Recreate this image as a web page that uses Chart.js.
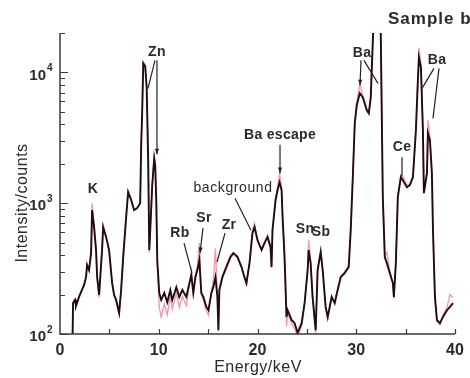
<!DOCTYPE html>
<html>
<head>
<meta charset="utf-8">
<script src="https://cdn.jsdelivr.net/npm/chart.js@4.4.0/dist/chart.umd.min.js"></script>
<style>
html, body { margin: 0; padding: 0; background: #fff; }
canvas { display: block; }
</style>
</head>
<body>
<canvas id="myChart" width="470" height="378"></canvas>
<script>
// energy axis (keV)
var energy = [
  1.27, 1.32, 1.52, 1.62, 1.93, 2.23, 2.44, 2.64, 2.74, 2.94,
  3.15, 3.25, 3.45, 3.65, 3.76, 3.96, 4.26, 4.37, 4.67, 4.97,
  5.28, 5.48, 5.69, 5.99, 6.19, 6.40, 6.70, 6.90, 7.21, 7.51,
  7.82, 8.12, 8.22, 8.32, 8.43, 8.63, 8.78, 8.93, 9.04, 9.14,
  9.34, 9.54, 9.64, 9.75, 9.85, 10.05, 10.25, 10.56, 10.86, 11.17,
  11.37, 11.78, 12.08, 12.39, 12.79, 13.10, 13.30, 13.50, 13.71, 13.91,
  14.11, 14.31, 14.52, 14.82, 15.03, 15.33, 15.53, 15.74, 15.94, 16.04,
  16.14, 16.45, 16.85, 17.26, 17.56, 17.97, 18.38, 18.68, 18.88, 19.19,
  19.49, 19.70, 20.00, 20.41, 20.71, 21.02, 21.32, 21.42, 21.52, 21.83,
  22.03, 22.23, 22.44, 22.54, 22.74, 22.94, 23.05, 23.45, 23.76, 24.06,
  24.47, 24.77, 25.08, 25.18, 25.38, 25.58, 25.89, 26.09, 26.40, 26.60,
  26.90, 27.11, 27.51, 27.82, 28.12, 28.43, 28.83, 29.24, 29.44, 29.64,
  29.85, 30.05, 30.36, 30.66, 31.07, 31.27, 31.47, 31.68, 31.98, 32.39,
  32.49, 32.69, 32.89, 33.10, 33.40, 33.71, 33.81, 34.01, 34.21, 34.52,
  34.72, 35.13, 35.43, 35.74, 36.04, 36.24, 36.35, 36.55, 36.75, 36.85,
  37.16, 37.26, 37.46, 37.66, 37.77, 37.97, 38.17, 38.48, 38.78, 39.19,
  39.49, 39.80
];

// black spectrum (counts)
var countsBlack = [
  90, 172, 182, 164, 192, 217, 237, 272, 336, 308,
  415, 885, 656, 438, 272, 199, 438, 656, 550, 438,
  245, 199, 182, 145, 217, 387, 782, 1213, 1054, 885,
  916, 1000, 2772, 4866, 11720, 11120, 7550, 2130, 438, 622,
  1372, 2206, 1950, 1054, 367, 206, 182, 206, 175, 217,
  182, 228, 192, 217, 192, 245, 282, 206, 272, 308,
  367, 206, 192, 161, 152, 206, 228, 272, 192, 107,
  217, 272, 325, 387, 415, 387, 325, 272, 245, 348,
  590, 656, 522, 438, 495, 550, 461, 325, 622, 1054,
  1257, 1446, 1257, 782, 387, 135, 152, 128, 121, 102,
  121, 172, 308, 438, 348, 192, 107, 308, 423, 308,
  161, 135, 192, 172, 217, 272, 292, 325, 622, 1498,
  4080, 5600, 6920, 6445, 5130, 4866, 6445, 17500, 60000, 60000,
  17500, 1112, 387, 348, 292, 245, 192, 348, 1112, 1580,
  1498, 1325, 1372, 1580, 3610, 8690, 13000, 10920, 3610, 1192,
  1694, 3423, 3027, 1694, 622, 192, 128, 121, 135, 152,
  161, 172
];

// pink spectrum (counts), mostly under the black one
var countsPink = [
  90, 175, 185, 160, 195, 220, 240, 280, 345, 310,
  430, 1000, 680, 450, 280, 190, 450, 680, 560, 440,
  250, 195, 175, 140, 220, 400, 800, 1250, 1080, 880,
  930, 1010, 2800, 4900, 12000, 11300, 7600, 2150, 420, 630,
  1390, 2250, 1980, 1060, 340, 160, 135, 170, 140, 195,
  155, 205, 160, 195, 165, 235, 300, 200, 280, 330,
  495, 200, 180, 150, 140, 210, 260, 450, 190, 105,
  220, 280, 335, 400, 420, 395, 330, 270, 240, 360,
  610, 700, 530, 440, 510, 570, 470, 320, 640, 1090,
  1300, 1700, 1290, 790, 370, 115, 145, 120, 110, 95,
  115, 175, 320, 520, 360, 185, 100, 320, 440, 315,
  160, 130, 195, 175, 225, 280, 300, 340, 640, 1540,
  4200, 5900, 8240, 6700, 5250, 4900, 6600, 18000, 60000, 60000,
  18000, 1150, 400, 420, 300, 240, 185, 355, 1150, 1650,
  1600, 1380, 1400, 1620, 3700, 9000, 15500, 11300, 3700, 1200,
  1750, 4300, 3150, 1750, 640, 185, 125, 118, 140, 160,
  200, 190
];

var xTicks = [0, 10, 20, 30, 40];
var yTicks = [100, 1000, 10000];
var yTickExp = ['2', '3', '4'];

// peak labels [text, keV, counts]
var peakLabels = [
  ['K', 3.34, 1280],
  ['Zn', 9.82, 14220],
  ['Rb', 12.15, 590],
  ['Sr', 14.58, 768],
  ['Zr', 17.11, 679],
  ['Ba escape', 22.28, 3300],
  ['Sn', 24.81, 634],
  ['Sb', 26.43, 601],
  ['Ba', 30.58, 13960],
  ['Ce', 34.63, 2675],
  ['Ba', 38.18, 12350]
];

// pointer lines [keV1, counts1, keV2, counts2, arrowhead]
var pointers = [
  [9.62, 12360, 8.91, 7550, 0],
  [9.82, 12360, 9.82, 2366, 1],
  [12.56, 495, 13.37, 292, 0],
  [14.48, 644, 14.18, 415, 1],
  [16.71, 590, 15.90, 355, 0],
  [17.72, 1091, 19.34, 622, 0],
  [22.28, 2800, 22.28, 1694, 1],
  [30.48, 12360, 30.38, 7960, 1],
  [30.78, 12360, 32.20, 8240, 0],
  [37.87, 10740, 36.66, 7550, 0],
  [38.38, 10740, 37.77, 4450, 0],
  [34.63, 2244, 34.63, 1607, 0]
];

function toPoints(ys) {
  var out = [];
  for (var i = 0; i < energy.length; i++) {
    out.push({x: energy[i], y: ys[i]});
  }
  return out;
}

var decor = {
  id: 'decor',
  afterDraw: function(chart) {
    var ctx = chart.ctx;
    var a = chart.chartArea;
    var xs = chart.scales.x;
    var ys = chart.scales.y;
    ctx.save();

    // axes
    ctx.strokeStyle = '#3a3a3a';
    ctx.lineWidth = 1.5;
    ctx.beginPath();
    ctx.moveTo(a.left, a.top);
    ctx.lineTo(a.left, a.bottom);
    ctx.lineTo(a.right, a.bottom);
    ctx.stroke();

    // inward ticks
    ctx.lineWidth = 1.2;
    ctx.beginPath();
    for (var v = 5; v <= 40; v += 5) {
      var px = Math.round(xs.getPixelForValue(v)) + 0.5;
      ctx.moveTo(px, a.bottom);
      ctx.lineTo(px, a.bottom - 5);
    }
    for (var d = 0; d < yTicks.length; d++) {
      for (var m = 1; m <= 9; m++) {
        var val = m * yTicks[d];
        if (val > 20000) break;
        var py = Math.round(ys.getPixelForValue(val)) + 0.5;
        ctx.moveTo(a.left, py);
        ctx.lineTo(a.left + (m == 1 ? 8 : 5), py);
      }
    }
    ctx.moveTo(a.left, a.top + 0.5);
    ctx.lineTo(a.left + 5, a.top + 0.5);
    ctx.stroke();

    ctx.fillStyle = '#2a2a2a';

    // x tick labels
    ctx.font = 'bold 16px "Liberation Sans", Arial, sans-serif';
    ctx.textAlign = 'center';
    ctx.textBaseline = 'middle';
    xTicks.forEach(function(t) {
      ctx.fillText(String(t), xs.getPixelForValue(t), a.bottom + 17);
    });

    // y tick labels 10^n
    yTicks.forEach(function(t, i) {
      var py = ys.getPixelForValue(t);
      ctx.font = 'bold 15px "Liberation Sans", Arial, sans-serif';
      ctx.textAlign = 'right';
      ctx.textBaseline = 'middle';
      ctx.fillText('10', a.left - 14, py + 3);
      ctx.font = 'bold 10px "Liberation Sans", Arial, sans-serif';
      ctx.textAlign = 'left';
      ctx.fillText(yTickExp[i], a.left - 13, py - 4);
    });

    // axis titles
    ctx.font = '16px "Liberation Sans", Arial, sans-serif';
    ctx.letterSpacing = '0.5px';
    ctx.textAlign = 'center';
    ctx.textBaseline = 'middle';
    ctx.fillText('Energy/keV', 258, 368);
    ctx.save();
    ctx.translate(23, 203);
    ctx.rotate(-Math.PI / 2);
    ctx.fillText('Intensity/counts', 0, 0);
    ctx.restore();

    // sample title
    ctx.font = 'bold 17px "Liberation Sans", Arial, sans-serif';
    ctx.letterSpacing = '1px';
    ctx.textAlign = 'left';
    ctx.fillText('Sample b', 388, 19);

    // peak labels
    ctx.letterSpacing = '0.3px';
    ctx.font = 'bold 14px "Liberation Sans", Arial, sans-serif';
    ctx.textAlign = 'center';
    peakLabels.forEach(function(p) {
      ctx.fillText(p[0], xs.getPixelForValue(p[1]), ys.getPixelForValue(p[2]));
    });
    ctx.font = '14px "Liberation Sans", Arial, sans-serif';
    ctx.letterSpacing = '0.6px';
    ctx.fillText('background', xs.getPixelForValue(17.52), ys.getPixelForValue(1302));
    ctx.letterSpacing = '0px';

    // pointers
    ctx.strokeStyle = '#222';
    ctx.lineWidth = 1.2;
    pointers.forEach(function(p) {
      var x1 = xs.getPixelForValue(p[0]), y1 = ys.getPixelForValue(p[1]);
      var x2 = xs.getPixelForValue(p[2]), y2 = ys.getPixelForValue(p[3]);
      ctx.beginPath();
      ctx.moveTo(x1, y1);
      ctx.lineTo(x2, y2);
      ctx.stroke();
      if (p[4]) {
        var ang = Math.atan2(y2 - y1, x2 - x1);
        ctx.beginPath();
        ctx.moveTo(x2, y2);
        ctx.lineTo(x2 - 6 * Math.cos(ang - 0.35), y2 - 6 * Math.sin(ang - 0.35));
        ctx.lineTo(x2 - 6 * Math.cos(ang + 0.35), y2 - 6 * Math.sin(ang + 0.35));
        ctx.closePath();
        ctx.fillStyle = '#222';
        ctx.fill();
      }
    });

    ctx.restore();
  }
};

var ctx = document.getElementById('myChart').getContext('2d');
var chart = new Chart(ctx, {
  type: 'line',
  data: {
    datasets: [{
      label: 'b',
      data: toPoints(countsBlack),
      borderColor: '#1f0d11',
      borderWidth: 1.9,
      pointRadius: 0,
      tension: 0,
      order: 0
    }, {
      label: 'b2',
      data: toPoints(countsPink),
      borderColor: 'rgba(240,130,150,0.8)',
      borderWidth: 1.4,
      pointRadius: 0,
      tension: 0,
      order: 1
    }]
  },
  options: {
    responsive: false,
    animation: false,
    layout: { padding: { left: 60, right: 15, top: 33, bottom: 44 } },
    plugins: {
      legend: { display: false },
      tooltip: { enabled: false }
    },
    scales: {
      x: { type: 'linear', min: 0, max: 40, display: false },
      y: { type: 'logarithmic', min: 100, max: 20000, display: false }
    }
  },
  plugins: [decor]
});
</script>
</body>
</html>
